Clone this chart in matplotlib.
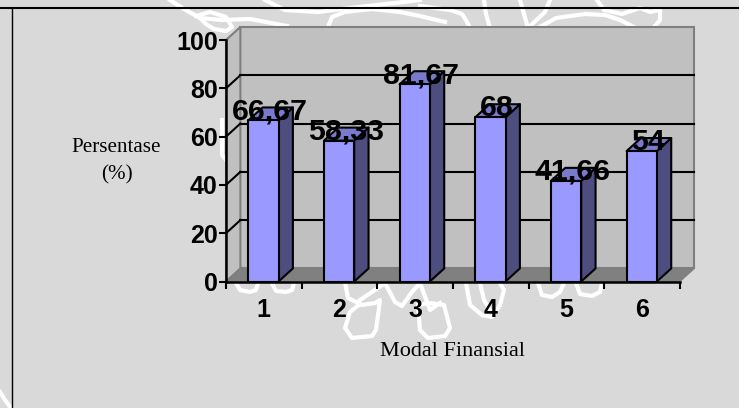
import matplotlib
matplotlib.use("Agg")
import matplotlib.pyplot as plt
from matplotlib.lines import Line2D

W, H = 739, 408

categories = ["1", "2", "3", "4", "5", "6"]
values = [66.67, 58.33, 81.67, 68, 41.66, 54]
value_labels = ["66,67", "58,33", "81,67", "68", "41,66", "54"]
y_ticks = [0, 20, 40, 60, 80, 100]

BG = "#d9d9d9"
WALL = "#c0c0c0"
FLOOR = "#808080"
FRONT = "#9999ff"
SIDE = "#4d4d80"
TOP = "#7a7acc"

# 3d look: depth of the box in data units
DX = 0.19
DY = 5.4
BAR_W = 0.40

# white background watermark, in picture pixels
watermark = [
    ([170, 184, 200, 222, 250, 287], [0, 9, 18, 20, 19, 26]),
    ([196, 210, 226, 232, 226, 214, 206, 200], [16, 12, 17, 27, 31, 29, 24, 18]),
    ([265, 285, 318, 350, 395, 420], [0, 10, 12, 8, 3, 0]),
    ([328, 332, 345, 372, 400, 420, 445], [27, 17, 12, 9, 12, 16, 22]),
    ([420, 450, 462, 466, 470], [6, 10, 14, 20, 28]),
    ([484, 486, 490], [0, 14, 28]),
    ([520, 524, 528, 545, 550], [0, 14, 28, 12, 0]),
    ([538, 556, 585, 605, 620, 634], [28, 18, 14, 15, 20, 27]),
    ([597, 604, 622, 640, 650, 660, 660, 654], [0, 10, 14, 8, 12, 10, 20, 27]),
    ([236, 240, 250, 256, 258], [283, 290, 292, 290, 283]),
    ([272, 276, 286, 292, 294], [283, 291, 292, 290, 283]),
    ([345, 348, 362, 375, 380, 376, 372, 352, 345, 350, 360], [282, 298, 305, 303, 300, 330, 336, 338, 328, 312, 304]),
    ([360, 372, 385, 395, 402, 412, 420, 430, 440], [300, 292, 283, 302, 306, 292, 283, 310, 303]),
    ([418, 420, 428, 445, 450, 444, 430, 418], [305, 330, 338, 336, 328, 305, 303, 305]),
    ([466, 470, 482, 492, 500, 504, 500], [283, 305, 315, 317, 305, 290, 283]),
    ([480, 484, 490], [283, 300, 310]),
    ([538, 542, 552, 560, 564], [283, 295, 297, 292, 283]),
    ([576, 580, 592, 600, 602], [283, 294, 296, 292, 283]),
    ([222, 222, 226], [120, 155, 160]),
    ([0, 5, 11], [392, 400, 408]),
]

plt.rcParams["font.family"] = ["Liberation Sans", "DejaVu Sans"]

fig = plt.figure(figsize=(W / 100, H / 100), dpi=100, facecolor=BG)
ax = fig.add_axes([226 / W, 1 - 281.5 / H, 454 / W, 241.5 / H])
ax.patch.set_visible(False)
ax.set_xlim(0.5, 6.5)
ax.set_ylim(0, 100)

for xs, ys in watermark:
    fig.add_artist(Line2D([x / W for x in xs], [1 - y / H for y in ys], color="#ffffff",
                          lw=3.0, zorder=-5, solid_joinstyle="round"))

# page frame
fig.add_artist(Line2D([0, 1], [1 - 7.5 / H, 1 - 7.5 / H], color="black", lw=1.5))
fig.add_artist(Line2D([11.5 / W, 11.5 / W], [0, 1 - 7.5 / H], color="black", lw=1.0))

# walls and floor
ax.fill([0.5 + DX, 6.5 + DX, 6.5 + DX, 0.5 + DX], [DY, DY, 100 + DY, 100 + DY],
        facecolor=WALL, edgecolor="#7f7f7f", lw=1.5, clip_on=False, zorder=1)
ax.fill([0.5, 0.5 + DX, 0.5 + DX, 0.5], [0, DY, 100 + DY, 100],
        facecolor=WALL, edgecolor="#7f7f7f", lw=1.5, clip_on=False, zorder=1)
ax.fill([0.5, 6.5, 6.5 + DX, 0.5 + DX], [0, 0, DY, DY],
        facecolor=FLOOR, edgecolor="#7f7f7f", lw=0.8, clip_on=False, zorder=1)

for v in y_ticks[1:-1]:
    ax.plot([0.5 + DX, 6.5 + DX], [v + DY, v + DY], color="black", lw=1.5, clip_on=False, zorder=2)
    ax.plot([0.5, 0.5 + DX], [v, v + DY], color="black", lw=1.5, clip_on=False, zorder=2)

for i, v in enumerate(values):
    c = i + 1 - 0.006
    l, r = c - BAR_W / 2, c + BAR_W / 2
    ax.fill([r, r + DX, r + DX, r], [0, DY, v + DY, v], facecolor=SIDE, edgecolor="black",
            lw=1.5, clip_on=False, zorder=3, joinstyle="round")
    ax.fill([l, r, r + DX, l + DX], [v, v, v + DY, v + DY], facecolor=TOP, edgecolor="black",
            lw=1.5, clip_on=False, zorder=3, joinstyle="round")
    ax.fill([l, r, r, l], [0, 0, v, v], facecolor=FRONT, edgecolor="black",
            lw=1.5, clip_on=False, zorder=4, joinstyle="round")

for i, (v, s) in enumerate(zip(values, value_labels)):
    ax.text(i + 1 + DX / 2 - 0.012, v + 0.5, s, ha="center", va="baseline", fontsize=21.8,
            fontweight="bold", color="black", zorder=6, clip_on=False)

for side in ["top", "right"]:
    ax.spines[side].set_visible(False)
for side in ["left", "bottom"]:
    ax.spines[side].set_linewidth(1.8)
    ax.spines[side].set_zorder(5)

ax.set_yticks(y_ticks)
ax.set_yticklabels([str(v) for v in y_ticks], fontsize=18, fontweight="bold")
ax.tick_params(axis="y", length=5, width=1.5, pad=1)

# ticks sit between the categories, labels under the categories
ax.set_xticks([0.5, 1.5, 2.5, 3.5, 4.5, 5.5, 6.5])
ax.set_xticklabels([])
ax.set_xticks([1, 2, 3, 4, 5, 6], minor=True)
ax.set_xticklabels(categories, minor=True, fontsize=18, fontweight="bold")
ax.tick_params(axis="x", which="major", length=5, width=1.5)
ax.tick_params(axis="x", which="minor", length=0, pad=12)

serif = ["Liberation Serif", "DejaVu Serif"]
fig.text(116 / W, 1 - 148 / H, "Persentase", ha="center", va="center", fontsize=15.2, family=serif)
fig.text(117 / W, 1 - 175 / H, "(%)", ha="center", va="center", fontsize=15.2, family=serif)
fig.text(453 / W, 1 - 352 / H, "Modal Finansial", ha="center", va="center", fontsize=16, family=serif)

fig.savefig("out.png", dpi=100, facecolor=BG)
